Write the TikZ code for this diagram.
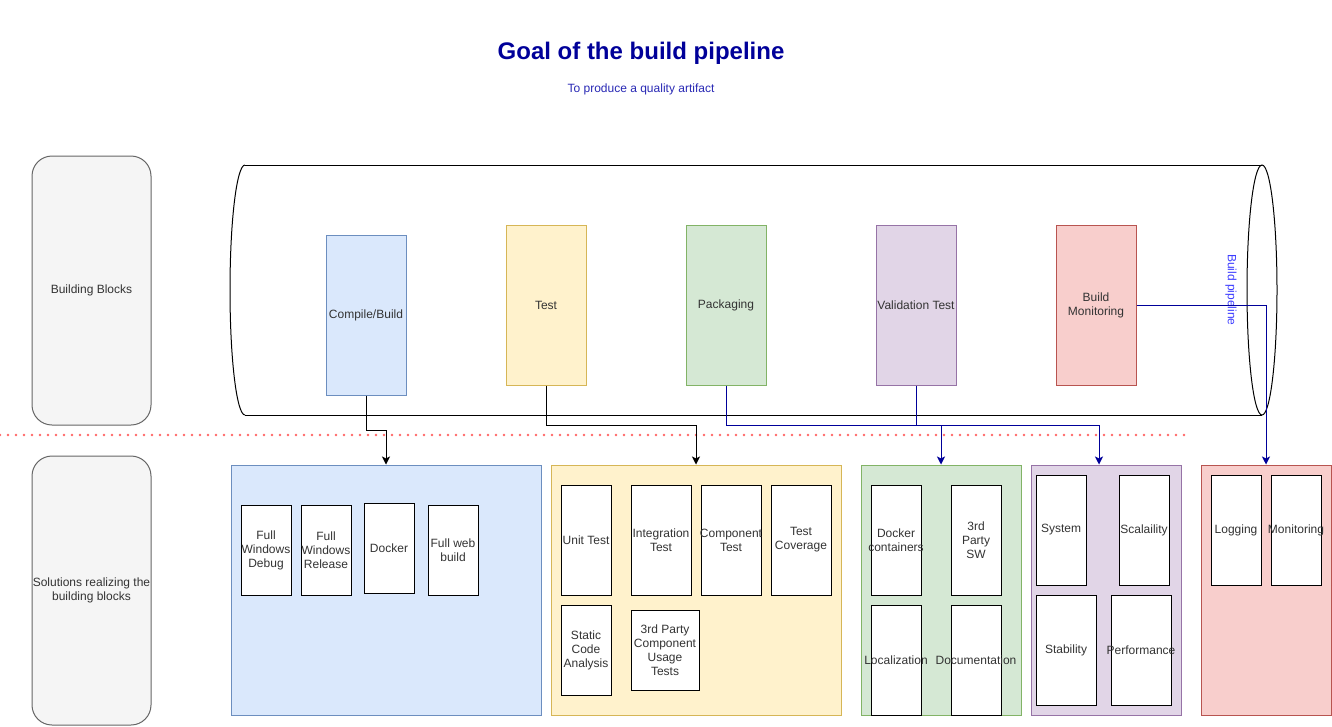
\documentclass[tikz,border=0pt]{standalone}
\usepackage{fontspec}
\setmainfont{Liberation Sans}
\usetikzlibrary{arrows.meta}
\definecolor{titleblue}{RGB}{0,0,153}
\definecolor{subblue}{RGB}{40,40,180}
\definecolor{lblblue}{RGB}{60,60,255}
\definecolor{connblue}{RGB}{0,0,153}
\definecolor{panelfill}{HTML}{F5F5F5}
\definecolor{panelstroke}{HTML}{666666}
\definecolor{txt}{HTML}{333333}
\definecolor{bluefill}{HTML}{DAE8FC}\definecolor{bluestroke}{HTML}{6C8EBF}
\definecolor{yelfill}{HTML}{FFF2CC}\definecolor{yelstroke}{HTML}{D6B656}
\definecolor{grnfill}{HTML}{D5E8D4}\definecolor{grnstroke}{HTML}{82B366}
\definecolor{purfill}{HTML}{E1D5E7}\definecolor{purstroke}{HTML}{9673A6}
\definecolor{redfill}{HTML}{F8CECC}\definecolor{redstroke}{HTML}{B85450}
\definecolor{dotred}{HTML}{FF6666}
% #1 style, #2 x1, #3 y1, #4 x2, #5 y2, #6 text, #7 name
\newcommand\mybox[7]{%
  \node[#1, minimum width={(#4-#2)*0.75pt}, minimum height={(#5-#3)*0.75pt}, inner sep=0pt] (#7) at ({(#2+#4)/2},{(#3+#5)/2}) {};%
  \node[align=center, inner sep=0pt, text=txt] (#7-t) at (#7.center) {#6};}
\begin{document}
\begin{tikzpicture}[x=0.75pt,y=-0.75pt, line width=0.75pt,
  font=\fontsize{9}{10.5}\selectfont,
  panel/.style={draw=panelstroke, fill=panelfill, rounded corners=15pt},
  blk/.style={draw},
  innerbox/.style={draw=black, fill=white},
  conn/.style={-{Stealth[length=6pt,width=6pt,inset=1.5pt]}, line join=miter},
  bconn/.style={conn, draw=connblue}]
\useasboundingbox (0,0) rectangle (1332,726);
% title
\node[text=titleblue, font=\fontsize{18}{21}\selectfont\bfseries] (title) at (641,53) {Goal of the build pipeline};
\node[text=subblue] (subtitle) at (641,89) {To produce a quality artifact};
% left panels
\mybox{panel}{32}{156}{151}{425}{Building Blocks}{bb}
\mybox{panel}{32}{456}{151}{725}{Solutions realizing the\\building blocks}{sol}
% dotted separator
\coordinate (dl) at (0,435);
\coordinate (dr) at (1188,435);
\draw[dotred, line width=2pt, line cap=round, dash pattern=on 0pt off 6pt] (dl) -- (dr);
% cylinder
\draw (245,165) -- (1262,165);
\draw (245,415) -- (1262,415);
\draw (245,165) arc[start angle=90, end angle=270, x radius=11.25pt, y radius=93.75pt];
\draw (1262,290) ellipse [x radius=11.25pt, y radius=93.75pt];
% building blocks
\mybox{blk, fill=bluefill, draw=bluestroke}{326}{235}{406}{395}{Compile/Build}{cb}
\mybox{blk, fill=yelfill, draw=yelstroke}{506}{225}{586}{385}{Test}{test}
\mybox{blk, fill=grnfill, draw=grnstroke}{686}{225}{766}{385}{Packaging}{pack}
\mybox{blk, fill=purfill, draw=purstroke}{876}{225}{956}{385}{Validation Test}{val}
\mybox{blk, fill=redfill, draw=redstroke}{1056}{225}{1136}{385}{Build\\Monitoring}{mon}
\node[rotate=-90, text=lblblue] (bpl) at (1231,290) {Build pipeline};
% containers
\mybox{draw=bluestroke, fill=bluefill}{231}{465}{541}{715}{}{cblue}
\mybox{draw=yelstroke, fill=yelfill}{551}{465}{841}{715}{}{cyel}
\mybox{draw=grnstroke, fill=grnfill}{861}{465}{1021}{715}{}{cgrn}
\mybox{draw=purstroke, fill=purfill}{1031}{465}{1181}{715}{}{cpur}
\mybox{draw=redstroke, fill=redfill}{1201}{465}{1331}{715}{}{cred}
% blue container items
\mybox{innerbox}{241}{505}{291}{595}{Full\\Windows\\Debug}{fwd}
\mybox{innerbox}{301}{505}{351}{595}{Full\\Windows\\Release}{fwr}
\mybox{innerbox}{364}{503}{414}{593}{Docker}{dock}
\mybox{innerbox}{428}{505}{478}{595}{Full web\\build}{fwb}
% yellow container items
\mybox{innerbox}{561}{485}{611}{595}{Unit Test}{ut}
\mybox{innerbox}{631}{485}{691}{595}{Integration\\Test}{it}
\mybox{innerbox}{701}{485}{761}{595}{Component\\Test}{ct}
\mybox{innerbox}{771}{485}{831}{595}{Test\\Coverage}{tc}
\mybox{innerbox}{561}{605}{611}{695}{Static\\Code\\Analysis}{sca}
\mybox{innerbox}{631}{610}{699}{690}{3rd Party\\Component\\Usage\\Tests}{tpc}
% green container items
\mybox{innerbox}{871}{485}{921}{595}{Docker\\containers}{dc}
\mybox{innerbox}{951}{485}{1001}{595}{3rd\\Party\\SW}{tps}
\mybox{innerbox}{871}{605}{921}{715}{Localization}{loc}
\mybox{innerbox}{951}{605}{1001}{715}{Documentation}{doc}
% purple container items
\mybox{innerbox}{1036}{475}{1086}{585}{System}{sys}
\mybox{innerbox}{1119}{475}{1169}{585}{Scalaility}{scal}
\mybox{innerbox}{1036}{595}{1096}{705}{Stability}{stab}
\mybox{innerbox}{1111}{595}{1171}{705}{Performance}{perf}
% red container items
\mybox{innerbox}{1211}{475}{1261}{585}{Logging}{log}
\mybox{innerbox}{1271}{475}{1321}{585}{Monitoring}{moni}
% connectors
\draw[conn] (cb.south) -- ++(0,35) -| (cblue.north);
\draw[conn] (test.south) -- ++(0,40) -| (cyel.north);
\draw[bconn] (pack.south) -- ++(0,40) -| (cgrn.north);
\draw[bconn] (val.south) -- ++(0,40) -| ([xshift=-5.25pt]cpur.north);
\draw[bconn] (mon.east) -| (cred.north);
\end{tikzpicture}
\end{document}
